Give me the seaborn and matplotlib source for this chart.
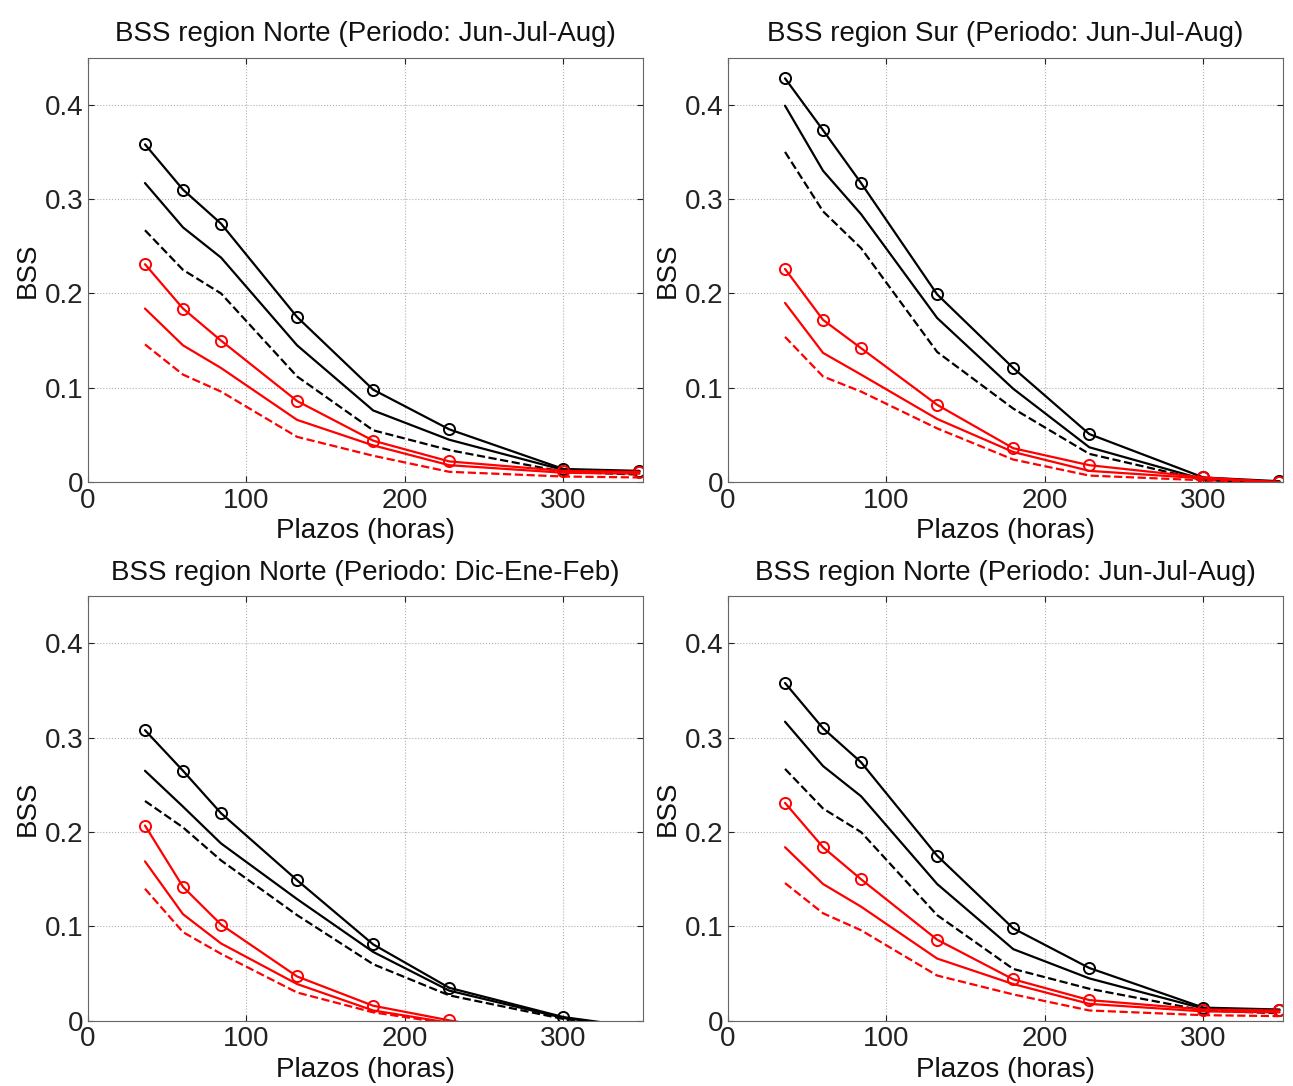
import numpy as np
import pandas as pd
import matplotlib
matplotlib.use("Agg")
import matplotlib.pyplot as plt
import seaborn as sns

# plazos de prediccion (horas)
plazos = [36, 60, 84, 132, 180, 228, 300, 348]

# Norte, Jun-Jul-Aug
norte_jja_negro_o = [0.358, 0.310, 0.274, 0.175, 0.098, 0.056, 0.014, 0.012]
norte_jja_negro = [0.317, 0.270, 0.238, 0.145, 0.076, 0.045, 0.013, 0.011]
norte_jja_negro_dash = [0.267, 0.225, 0.200, 0.112, 0.055, 0.034, 0.011, 0.008]
norte_jja_rojo_o = [0.231, 0.184, 0.150, 0.086, 0.044, 0.022, 0.012, 0.011]
norte_jja_rojo = [0.184, 0.145, 0.121, 0.066, 0.039, 0.018, 0.010, 0.009]
norte_jja_rojo_dash = [0.146, 0.114, 0.096, 0.048, 0.028, 0.011, 0.006, 0.005]

# Sur, Jun-Jul-Aug
sur_jja_negro_o = [0.428, 0.373, 0.317, 0.199, 0.121, 0.051, 0.005, 0.001]
sur_jja_negro = [0.399, 0.330, 0.284, 0.174, 0.099, 0.037, 0.003, 0.000]
sur_jja_negro_dash = [0.350, 0.287, 0.248, 0.138, 0.078, 0.030, 0.002, 0.000]
sur_jja_rojo_o = [0.226, 0.172, 0.142, 0.082, 0.036, 0.018, 0.005, 0.000]
sur_jja_rojo = [0.190, 0.137, 0.114, 0.067, 0.032, 0.012, 0.004, 0.000]
sur_jja_rojo_dash = [0.154, 0.112, 0.096, 0.057, 0.024, 0.007, 0.002, 0.000]

# Norte, Dic-Ene-Feb
norte_def_negro_o = [0.308, 0.265, 0.220, 0.149, 0.081, 0.035, 0.004, -0.007]
norte_def_negro = [0.265, 0.227, 0.188, 0.129, 0.073, 0.032, 0.003, -0.007]
norte_def_negro_dash = [0.233, 0.205, 0.170, 0.112, 0.060, 0.027, 0.002, -0.007]
norte_def_rojo_o = [0.207, 0.142, 0.102, 0.047, 0.016, 0.0005, -0.02, -0.03]
norte_def_rojo = [0.169, 0.113, 0.082, 0.039, 0.011, -0.002, -0.02, -0.03]
norte_def_rojo_dash = [0.140, 0.094, 0.071, 0.030, 0.009, -0.003, -0.02, -0.03]

paneles = [
    ("BSS region Norte (Periodo: Jun-Jul-Aug)",
     [norte_jja_negro_o, norte_jja_negro, norte_jja_negro_dash,
      norte_jja_rojo_o, norte_jja_rojo, norte_jja_rojo_dash]),
    ("BSS region Sur (Periodo: Jun-Jul-Aug)",
     [sur_jja_negro_o, sur_jja_negro, sur_jja_negro_dash,
      sur_jja_rojo_o, sur_jja_rojo, sur_jja_rojo_dash]),
    ("BSS region Norte (Periodo: Dic-Ene-Feb)",
     [norte_def_negro_o, norte_def_negro, norte_def_negro_dash,
      norte_def_rojo_o, norte_def_rojo, norte_def_rojo_dash]),
    ("BSS region Norte (Periodo: Jun-Jul-Aug)",
     [norte_jja_negro_o, norte_jja_negro, norte_jja_negro_dash,
      norte_jja_rojo_o, norte_jja_rojo, norte_jja_rojo_dash]),
]

# estilo de cada serie: color, linea, marcador
estilos = [
    ("black", "-", "o"),
    ("black", "-", None),
    ("black", "--", None),
    ("#ff0000", "-", "o"),
    ("#ff0000", "-", None),
    ("#ff0000", "--", None),
]

sns.set_style("whitegrid")
plt.rcParams['font.family'] = ['Liberation Sans', 'DejaVu Sans']
plt.rcParams['font.size'] = 20

fig = plt.figure(figsize=(12.93, 10.86), dpi=100)
posiciones = [
    [0.068, 0.556, 0.429, 0.391],
    [0.563, 0.556, 0.429, 0.391],
    [0.068, 0.060, 0.429, 0.391],
    [0.563, 0.060, 0.429, 0.391],
]

for pos, (titulo, series) in zip(posiciones, paneles):
    ax = fig.add_axes(pos)
    for valores, (color, ls, mk) in zip(series, estilos):
        df = pd.DataFrame({"plazo": plazos, "bss": valores})
        sns.lineplot(data=df, x="plazo", y="bss", ax=ax, color=color,
                     linestyle=ls, linewidth=1.6, marker=mk,
                     markersize=8, markerfacecolor="none",
                     markeredgecolor=color, markeredgewidth=1.4)
    ax.set_xlim(0, 350)
    ax.set_ylim(0, 0.45)
    ax.set_xticks([0, 100, 200, 300])
    ax.set_xticklabels(["0", "100", "200", "300"])
    ax.set_yticks([0, 0.1, 0.2, 0.3, 0.4])
    ax.set_yticklabels(["0", "0.1", "0.2", "0.3", "0.4"])
    ax.grid(True, color="#b0b0b0", linestyle=":", linewidth=0.8)
    ax.tick_params(direction="in", length=4, width=0.8, top=True, right=True,
                   bottom=True, left=True, labelsize=20, colors="#222222")
    ax.tick_params(axis="x", pad=4)
    ax.tick_params(axis="y", pad=3)
    for s in ax.spines.values():
        s.set_color("#666666")
        s.set_linewidth(0.8)
    ax.set_title(titulo, fontsize=20, pad=12, color="#111111")
    ax.set_xlabel("Plazos (horas)", fontsize=20, labelpad=3, color="#111111")
    ax.set_ylabel("BSS", fontsize=20, labelpad=3, color="#111111")

fig.savefig("out.png", dpi=100)
